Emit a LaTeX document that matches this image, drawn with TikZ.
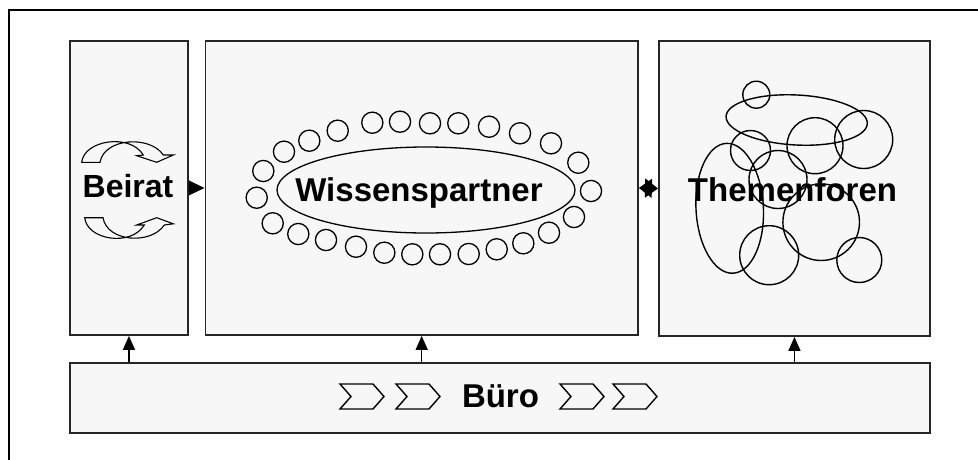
\documentclass[tikz,border=0pt]{standalone}
\usepackage{fontspec}
\setmainfont{Liberation Sans}
\usetikzlibrary{arrows.meta}
\definecolor{panelgray}{HTML}{F7F7F7}
\tikzset{
  panel/.style={draw=black!85, line width=1.9pt, fill=panelgray, inner sep=0pt, anchor=north west},
  lbl/.style={font=\bfseries\fontsize{33}{33}\selectfont, inner sep=0pt, anchor=base},
  smalllbl/.style={lbl, font=\bfseries\fontsize{32}{32}\selectfont},
  link/.style={line width=1.5pt, -{Triangle[length=14pt,width=12pt]}},
  ring/.style={line width=1.3pt},
  blob/.style={line width=1.4pt},
  chev/.style={line width=1.4pt, line join=miter},
  curl/.style={line width=1.1pt, line join=miter}
}
\begin{document}
\begin{tikzpicture}[x=1pt,y=-1pt]
\useasboundingbox (0,0) rectangle (978,459);

% open outer frame
\draw[line width=2pt] (9,470) -- (9,10) -- (990,10);

% panels
\node[panel, minimum width=118pt, minimum height=294pt] (beirat) at (69,40) {};
\node[panel, minimum width=432.5pt, minimum height=294pt] (wissens) at (204.5,40) {};
\node[panel, minimum width=271pt, minimum height=295pt] (themen) at (658,40) {};
\node[panel, minimum width=860pt, minimum height=70pt] (buero) at (69,362) {};

% Beirat: two circular arrows
\draw[curl] (81.7,162.3) .. controls (84,140) and (130,133) .. (143.3,155)
  -- (136.7,155.7) -- (156.7,162.3) -- (173.3,155) -- (163.3,155)
  .. controls (150,135) and (104,138) .. (100,162.3) -- cycle;
\draw[curl] (84.7,217.7) .. controls (87,240) and (131,247) .. (144.3,225)
  -- (136.7,225) -- (156.7,217.7) -- (173.3,223.8) -- (164.3,225)
  .. controls (151,245) and (107,242) .. (103,217.7) -- cycle;
\node[smalllbl] (tbeirat) at (128,197) {Beirat};

% Wissenspartner: ellipse with a ring of small circles
\draw[ring] (426,190) ellipse [x radius=149pt, y radius=43pt];
\foreach \cx/\cy in {337.7/130.7, 372.3/122.7, 400/121.7, 430/123.3, 458.3/123.3,
    489/126.7, 520/133.3, 551/143.3, 578.3/162.7, 591/191, 574/217, 549/232.7,
    523.3/243.3, 496.7/249.3, 468.7/254, 440/254.3, 412.3/254.3, 384.3/252.7,
    356/246.7, 326/240, 298.3/234, 272.7/223.3, 256.7/197.7, 263.3/171,
    284/151.7, 309.3/140.7}
  \draw[ring] (\cx,\cy) circle [radius=10.6pt];
\node[lbl] (twissens) at (419,201) {Wissenspartner};

% Themenforen: overlapping circles and ellipses
\draw[blob] (756.3,94.7) circle [radius=13.5pt];
\draw[blob, rotate around={-3:(796.7,120)}] (796.7,120) ellipse [x radius=70.7pt, y radius=25pt];
\draw[blob] (750.5,150.5) circle [radius=20pt];
\draw[blob] (815,145.7) circle [radius=28pt];
\draw[blob] (863.7,139.5) circle [radius=29pt];
\draw[blob] (778,179.5) circle [radius=29pt];
\draw[blob, rotate around={3:(729.7,208.3)}] (729.7,208.3) ellipse [x radius=33.7pt, y radius=65pt];
\draw[blob] (821.2,222.2) circle [radius=38.3pt];
\draw[blob] (769.2,255.2) circle [radius=29.5pt];
\draw[blob] (859.3,260) circle [radius=22.5pt];
\node[lbl] (tthemen) at (792.5,201.5) {Themenforen};

% Buero: chevrons around the label
\foreach \cx in {340,396,560,613}
  \draw[chev] (\cx,384) -- ++(33,0) -- ++(11,12.5) -- ++(-11,12.5) -- ++(-33,0) -- ++(11,-12.5) -- cycle;
\node[lbl] (tbuero) at (500.5,407) {Büro};

% connectors
\draw[line width=1.5pt, -{Triangle[length=16pt,width=15pt]}] (beirat.east) -- (wissens.west);
\draw[line width=1.5pt, {Triangle[length=13pt,width=19pt]}-{Triangle[length=13pt,width=19pt]}] (wissens.east) -- (themen.west);
\draw[link] (buero.north -| beirat.south) -- (beirat.south);
\draw[link] (buero.north -| wissens.south) -- (wissens.south);
\draw[link] (buero.north -| themen.south) -- (themen.south);
\end{tikzpicture}
\end{document}
